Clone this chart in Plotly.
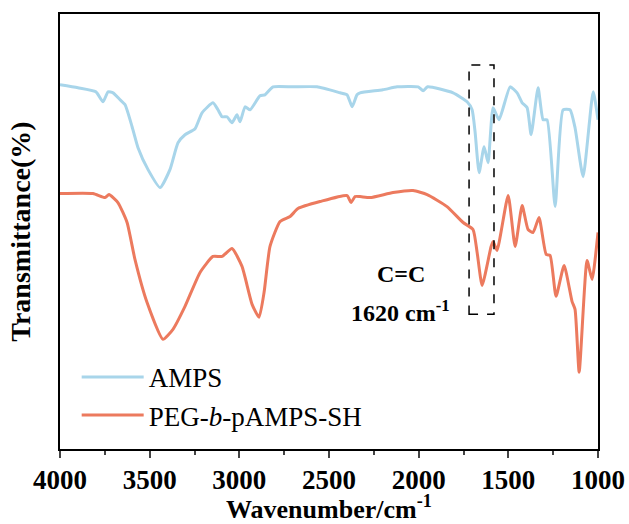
import plotly.graph_objects as go

# Wavenumber (cm-1) and transmittance (arbitrary units)
amps_wn = [4000, 3900, 3800, 3760, 3732, 3704, 3665, 3637, 3598, 3565, 3509, 3442, 3387, 3342,
           3303, 3247, 3208, 3147, 3119, 3096, 3069, 3041, 3013, 2996, 2968, 2940, 2885, 2857,
           2812, 2700, 2567, 2438, 2399, 2371, 2344, 2327, 2200, 2120, 2003, 1975, 1950, 1808,
           1730, 1702, 1685, 1663, 1635, 1613, 1585, 1552, 1490, 1451, 1423, 1395, 1373, 1334,
           1306, 1284, 1239, 1195, 1156, 1128, 1083, 1027, 1000]
amps_t = [365, 362, 358, 348, 358, 357, 350, 345, 323, 302, 280, 262, 280, 307,
          315, 321, 337, 347, 340, 333, 333, 327, 335, 328, 343, 340, 354, 355,
          363, 363, 363, 357, 355, 343, 355, 357, 360, 363, 363, 359, 363, 357,
          348, 340, 317, 277, 303, 287, 342, 330, 363, 357, 347, 342, 315, 362,
          330, 330, 243, 340, 340, 322, 273, 358, 330]

peg_wn = [4000, 3816, 3749, 3727, 3677, 3626, 3582, 3515, 3426, 3370, 3303, 3219, 3147, 3096,
          3041, 2985, 2929, 2890, 2862, 2829, 2773, 2717, 2673, 2550, 2399, 2377, 2355, 2327,
          2271, 2143, 2031, 1953, 1842, 1752, 1697, 1674, 1646, 1596, 1585, 1563, 1501, 1462,
          1423, 1390, 1362, 1329, 1289, 1267, 1234, 1189, 1145, 1128, 1105, 1061, 1033, 1000]
peg_t = [256, 256, 252, 255, 247, 227, 190, 147, 110, 120, 143, 177, 193, 193,
         201, 183, 145, 132, 157, 203, 228, 233, 241, 248, 254, 247, 253, 253,
         252, 257, 259, 255, 243, 227, 220, 197, 164, 203, 208, 199, 254, 203,
         244, 220, 217, 232, 195, 194, 153, 184, 148, 140, 77, 189, 170, 217]

series_names = ["AMPS", "PEG-<i>b</i>-pAMPS-SH"]
series_colors = ["#A8D5EA", "#EC7A5E"]

# Highlight box around the C=C band
box_wn = [1719, 1580]
box_t = [135, 385]
label_main = "C=C"
label_sub = "1620 cm<sup>-1</sup>"
label_wn = 2100
label_t = [175, 138]

x_ticks = [4000, 3500, 3000, 2500, 2000, 1500, 1000]
x_title = "<b>Wavenumber/cm<sup>-1</sup></b>"
y_title = "<b>Transmittance(%)</b>"

FONT = "Liberation Serif"

fig = go.Figure()
for wn, t, name, col in [(amps_wn, amps_t, series_names[0], series_colors[0]),
                         (peg_wn, peg_t, series_names[1], series_colors[1])]:
    fig.add_trace(go.Scatter(x=wn, y=t, mode="lines", name=name,
                             line=dict(color=col, width=3, shape="spline", smoothing=0.5)))

fig.add_shape(type="rect", xref="x", yref="y", x0=box_wn[0], x1=box_wn[1],
              y0=box_t[0], y1=box_t[1], line=dict(color="black", width=1.5, dash="dash"))

fig.add_annotation(x=label_wn, y=label_t[0], text="<b>" + label_main + "</b>", showarrow=False,
                   font=dict(family=FONT, size=24, color="black"))
fig.add_annotation(x=label_wn, y=label_t[1], text="<b>" + label_sub + "</b>", showarrow=False,
                   font=dict(family=FONT, size=24, color="black"))

# x-axis title placed as a paper-anchored annotation for exact positioning
fig.add_annotation(x=0.5, y=-0.134, xref="paper", yref="paper", text=x_title, showarrow=False,
                   xanchor="center", yanchor="middle", font=dict(family=FONT, size=26, color="black"))

fig.update_layout(
    width=629, height=524,
    margin=dict(l=60, r=31, t=14, b=75),
    plot_bgcolor="white", paper_bgcolor="white",
    font=dict(family=FONT, color="black"),
    showlegend=True,
    legend=dict(x=0.031, y=0.221, xanchor="left", yanchor="top",
                font=dict(family=FONT, size=27, color="black"),
                bgcolor="rgba(0,0,0,0)", itemwidth=62, tracegroupgap=0),
)
fig.update_xaxes(
    range=[4000, 1000], tickvals=x_ticks, ticks="outside", ticklen=7, tickwidth=2,
    minor=dict(ticks="outside", ticklen=4, tickwidth=2, dtick=250, tick0=1000),
    showline=True, linewidth=2, linecolor="black", mirror=True,
    showgrid=False, zeroline=False, automargin=False, ticklabelstandoff=-1,
    tickfont=dict(family=FONT, size=27, color="black", weight="bold"),
)
fig.update_yaxes(
    range=[0, 436], showticklabels=False, ticks="",
    showline=True, linewidth=2, linecolor="black", mirror=True,
    showgrid=False, zeroline=False, automargin=False,
    title=dict(text=y_title, font=dict(family=FONT, size=28), standoff=19),
)

# remove the browser's default 8px body margin so the figure fills the window exactly
fig.write_html("out.html", config={"displayModeBar": False},
               post_script="document.body.style.margin='0px';")
